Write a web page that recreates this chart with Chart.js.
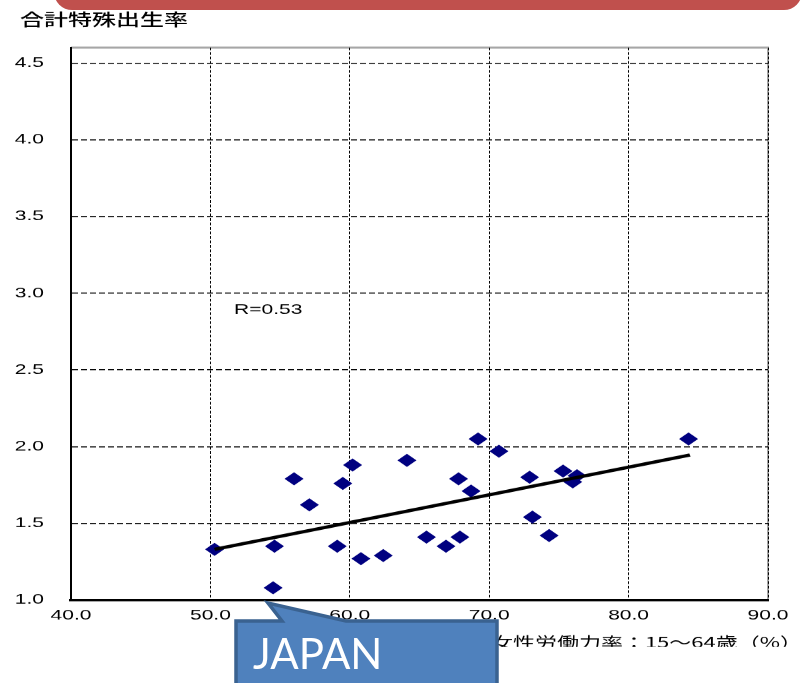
<!DOCTYPE html>
<html><head><meta charset="utf-8">
<script src="https://cdn.jsdelivr.net/npm/chart.js@4.4.0/dist/chart.umd.min.js"></script>
<style>
html,body{margin:0;padding:0;background:#fff;overflow:hidden}
#wrap{position:relative;width:807px;height:683px;overflow:hidden;background:#fff}
#c{position:absolute;left:0;top:0}
#banner{position:absolute;left:54px;top:-24px;width:748px;height:34px;background:#C0504D;border-radius:0 0 18px 18px}
#callout{position:absolute;left:0;top:0;pointer-events:none}
</style></head>
<body>
<div id="wrap">
<canvas id="c" width="807" height="990" style="width:807px;height:683px"></canvas>
<div id="banner"></div>
<svg id="callout" width="807" height="683">
  <path d="M236,621 L282,621 L268,603 L346,621 L497,621 L497,700 L236,700 Z" fill="#4F81BD" stroke="#3A6290" stroke-width="3.5" stroke-linejoin="miter"/>
  <text x="253" y="669" fill="#ffffff" font-family="Lato, 'Open Sans', sans-serif" font-size="42">JAPAN</text>
</svg>
</div>
<script>
// ---- data ----
const femaleLaborRate = [50.3, 54.5, 54.6, 56.0, 57.1, 59.1, 59.5, 60.2, 60.8, 62.4, 64.1, 65.5, 66.9, 67.8, 67.9, 68.7, 69.2, 70.7, 72.9, 73.1, 74.3, 75.3, 76.0, 76.3, 84.3];
const fertilityRate   = [1.33, 1.08, 1.35, 1.79, 1.62, 1.35, 1.76, 1.88, 1.27, 1.29, 1.91, 1.41, 1.35, 1.79, 1.41, 1.71, 2.05, 1.97, 1.80, 1.54, 1.42, 1.84, 1.77, 1.81, 2.05];
const trendX = [50.3, 84.4];
const trendY = [1.33, 1.945];
const xTickValues = [40, 50, 60, 70, 80, 90];
const yTickValues = [1.0, 1.5, 2.0, 2.5, 3.0, 3.5, 4.0, 4.5];
const yAxisTitle = '合計特殊出生率';
const xAxisTitle = '女性労働力率：15～64歳（%）';
const rLabel = 'R=0.53';
const rLabelPos = [51.7, 2.89];

// ---- rendering ----
const K = 990 / 683; // vertical squeeze factor of the canvas (gives the stretched look)
const pts = femaleLaborRate.map((x, i) => ({x, y: fertilityRate[i]}));
const trend = trendX.map((x, i) => ({x, y: trendY[i]}));

const extras = {
  id: 'extras',
  beforeDraw(chart) {
    const {ctx, chartArea: a} = chart;
    ctx.save();
    ctx.strokeStyle = '#a6a6a6';
    ctx.lineWidth = 2 * K;
    ctx.beginPath(); ctx.moveTo(a.left, a.top); ctx.lineTo(a.right + 1, a.top); ctx.stroke();
    ctx.lineWidth = 2;
    ctx.beginPath(); ctx.moveTo(a.right, a.top); ctx.lineTo(a.right, a.bottom); ctx.stroke();
    ctx.restore();
  },
  afterDraw(chart) {
    const {ctx} = chart;
    const xs = chart.scales.x, ys = chart.scales.y;
    ctx.save();
    ctx.fillStyle = '#000';
    ctx.textBaseline = 'middle';
    ctx.textAlign = 'left';
    ctx.font = '500 24px "Noto Sans CJK JP"';
    ctx.fillText(yAxisTitle, 20, 19.5 * K);
    ctx.font = '21px "Liberation Sans"';
    ctx.fillText(rLabel, xs.getPixelForValue(rLabelPos[0]), ys.getPixelForValue(rLabelPos[1]));
    ctx.beginPath(); ctx.rect(0, 0, chart.width, 647 * K); ctx.clip();
    ctx.textAlign = 'right';
    ctx.font = '22px "Noto Sans CJK JP"';
    ctx.fillText(xAxisTitle, 802, 642 * K);
    ctx.restore();
  }
};

new Chart(document.getElementById('c'), {
  data: {
    datasets: [
      {type: 'scatter', data: pts, pointStyle: 'rectRot', pointRadius: 9.5, pointHoverRadius: 9.5,
       backgroundColor: '#000080', borderColor: '#000080', borderWidth: 0, order: 2},
      {type: 'line', data: trend, borderColor: '#000', borderWidth: 4.8, pointRadius: 0, fill: false, order: 1}
    ]
  },
  options: {
    responsive: false, devicePixelRatio: 1, animation: false,
    layout: {padding: {top: 69, right: 39, left: 0, bottom: 0}},
    plugins: {legend: {display: false}, tooltip: {enabled: false}},
    scales: {
      x: {
        type: 'linear', min: 40, max: 90,
        afterFit(s) { s.height = 990 - 600 * K; },
        afterBuildTicks(s) { s.ticks = xTickValues.map(v => ({value: v})); },
        ticks: {callback: v => v.toFixed(1), color: '#000', font: {family: 'Liberation Sans', size: 21}, padding: 10, maxRotation: 0, autoSkip: false},
        grid: {color: c => (c.tick && c.tick.value === 40) ? 'rgba(0,0,0,0)' : '#000', lineWidth: 1, drawTicks: false},
        border: {display: true, color: '#000', width: 3.5, dash: [4, 2.5]}
      },
      y: {
        type: 'linear', min: 1, max: 4.6,
        afterFit(s) { s.width = 71; },
        afterBuildTicks(s) { s.ticks = yTickValues.map(v => ({value: v})); },
        ticks: {callback: v => v.toFixed(1), color: '#000', font: {family: 'Liberation Sans', size: 21}, padding: 27, autoSkip: false},
        grid: {color: c => (c.tick && c.tick.value === 1) ? 'rgba(0,0,0,0)' : '#000', lineWidth: 1.45, drawTicks: false},
        border: {display: true, color: '#000', width: 2, dash: [6, 3]}
      }
    }
  },
  plugins: [extras]
});
</script>
</body></html>
